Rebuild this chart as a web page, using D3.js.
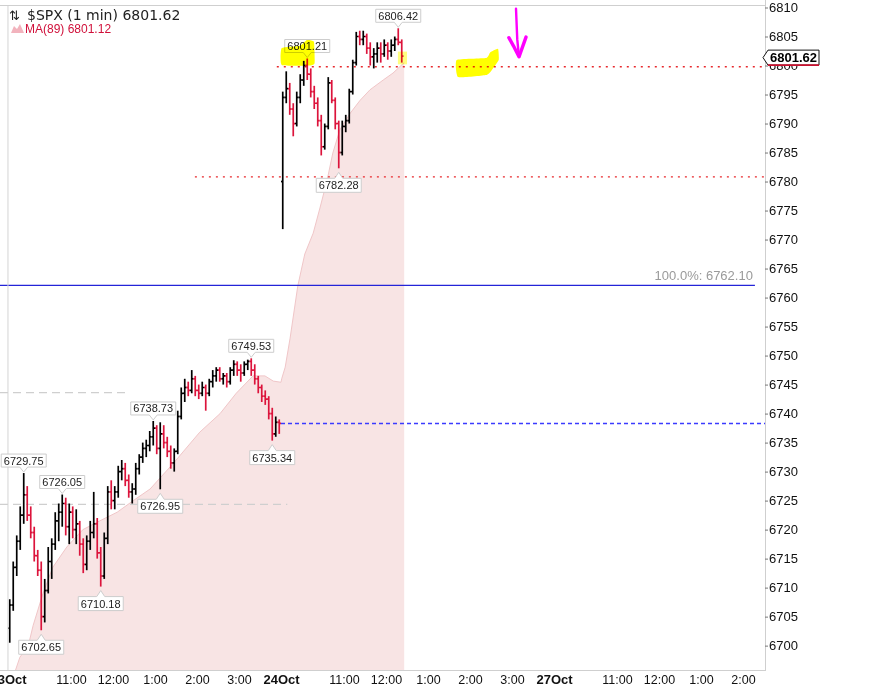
<!DOCTYPE html>
<html>
<head>
<meta charset="utf-8">
<script src="https://cdn.jsdelivr.net/npm/d3@7"></script>
<style>
	body { margin: 0; background: #fff; }
	svg { display: block; font-family: "Liberation Sans", Arial, sans-serif; }
</style>
</head>
<body>
<div id="chart"></div>
<script>
const dayNames = ['23Oct', '24Oct', '27Oct'];
const hourOffsets = [90, 150, 210, 270, 330];
const hourLabels = ['11:00', '12:00', '1:00', '2:00', '3:00'];
const priceTicks = d3.range(6700, 6811, 5);
const sessionMinutes = 390;
const barMinutes = 5;

// [open, high, low, close], 5 min each from 9:30
const oct23Bars = [
	[6703, 6708, 6700.5, 6707], [6707, 6714.5, 6706, 6713.5], [6713.5, 6719, 6712, 6718],
	[6718, 6724, 6716.5, 6722.5], [6722.5, 6729.75, 6721, 6726], [6726, 6727.5, 6721.5, 6722.5],
	[6722.5, 6724, 6718.5, 6719.5], [6719.5, 6720.5, 6714.5, 6715.5], [6715.5, 6716.5, 6712, 6713],
	[6713, 6714.5, 6702.65, 6705], [6705, 6711.5, 6704, 6709.5], [6709.5, 6717, 6709, 6714.5],
	[6714.5, 6718.5, 6711.5, 6717.5], [6717.5, 6723, 6716.5, 6721.5], [6721.5, 6724.5, 6718, 6723],
	[6723, 6726.05, 6720.5, 6724.5], [6724.5, 6725.5, 6719, 6720.5], [6720.5, 6724.5, 6717.5, 6723],
	[6723, 6724, 6718.5, 6720], [6720, 6723.5, 6717.5, 6721], [6721, 6721.5, 6715.5, 6717.5],
	[6717.5, 6718.5, 6712.5, 6714], [6714, 6719, 6713, 6718], [6718, 6721.5, 6716.5, 6719.5],
	[6719.5, 6726.5, 6718.5, 6721], [6721, 6722, 6715, 6716], [6716, 6717, 6710.18, 6712],
	[6712, 6719.5, 6711.5, 6718.5], [6718.5, 6727.5, 6717.5, 6726.5], [6726.5, 6728.5, 6723.5, 6725],
	[6725, 6727.5, 6723.5, 6726.5], [6726.5, 6731, 6725.5, 6730], [6730, 6732, 6728.5, 6730.5],
	[6730.5, 6731.5, 6727.5, 6728.5], [6728.5, 6729.5, 6725.5, 6726.5], [6726.5, 6728, 6724.5, 6727],
	[6727, 6731.5, 6726, 6730.5], [6730.5, 6733, 6729.5, 6732.5], [6732.5, 6735, 6731.5, 6734],
	[6734, 6735.5, 6732.5, 6734.5], [6734.5, 6737, 6733.5, 6736], [6736, 6738.73, 6734.5, 6737.5],
	[6737.5, 6738, 6733, 6734], [6734, 6738.5, 6726.95, 6736.5], [6736.5, 6738, 6734, 6735],
	[6735, 6736, 6732.5, 6733.5], [6733.5, 6734.5, 6730.5, 6731.5], [6731.5, 6734, 6730, 6733.5],
	[6733.5, 6740.5, 6733, 6739.5], [6739.5, 6744.5, 6739, 6743.5], [6743.5, 6746, 6742, 6744.5],
	[6744.5, 6745.5, 6743, 6744], [6744, 6747.5, 6743.5, 6746], [6746, 6746.5, 6743, 6744],
	[6744, 6745, 6742.5, 6743.5], [6743.5, 6745.5, 6743, 6744.5], [6744.5, 6745, 6740.5, 6743.5],
	[6743.5, 6746, 6743, 6745.5], [6745.5, 6747.5, 6744.5, 6746.5], [6746.5, 6748, 6745.5, 6747.5],
	[6747.5, 6748, 6745.5, 6746], [6746, 6747, 6745, 6746.5], [6746.5, 6747, 6744.5, 6745.5],
	[6745.5, 6748, 6745, 6747.5], [6747.5, 6749.2, 6746.5, 6748.5], [6748.5, 6749, 6746.5, 6747.5],
	[6747.5, 6748.5, 6745.5, 6747], [6747, 6749, 6746.5, 6748.5], [6748.5, 6749.3, 6747.5, 6749],
	[6749, 6749.53, 6746.5, 6747.5], [6747.5, 6748.5, 6745, 6746], [6746, 6746.5, 6743.5, 6744.5],
	[6744.5, 6745, 6742, 6743], [6743, 6744, 6741.5, 6742.5], [6742.5, 6743, 6739, 6740],
	[6740, 6741, 6735.34, 6736.5], [6736.5, 6739.5, 6736, 6738.5], [6738.5, 6739, 6736.5, 6738.3]
];

const oct24Bars = [
	[6780, 6795.5, 6771.8, 6794.5], [6794.5, 6799, 6793.5, 6796], [6796, 6797, 6791.5, 6792.5],
	[6792.5, 6793.5, 6787.8, 6790], [6790, 6795.5, 6789.5, 6794.5], [6794.5, 6798.5, 6793.5, 6797.5],
	[6797.5, 6800.8, 6796.5, 6800], [6800, 6801.21, 6797.5, 6798.5], [6798.5, 6799.5, 6794.5, 6795.5],
	[6795.5, 6796.5, 6792.5, 6793.5], [6793.5, 6794.5, 6789.5, 6790.5], [6790.5, 6791.5, 6784.5, 6786],
	[6786, 6790, 6785.5, 6789.5], [6789.5, 6798, 6789, 6797], [6797, 6797.5, 6793.5, 6794],
	[6794, 6794.5, 6789, 6790], [6790, 6790.5, 6782.28, 6785], [6785, 6790.5, 6784.5, 6789.5],
	[6789.5, 6791.5, 6788.5, 6790.5], [6790.5, 6796, 6790, 6795.5], [6795.5, 6801, 6795, 6800.5],
	[6800.5, 6805.8, 6800, 6805], [6805, 6806, 6803.5, 6804.5], [6804.5, 6806, 6803.5, 6805],
	[6805, 6805.5, 6802, 6803], [6803, 6804, 6800, 6801.5], [6801.5, 6803, 6799.5, 6802],
	[6802, 6804, 6800.5, 6803], [6803, 6804, 6800.5, 6802], [6802, 6804.5, 6801.5, 6803.5],
	[6803.5, 6804, 6801, 6802.5], [6802.5, 6804.5, 6801.5, 6803.5], [6803.5, 6805, 6802.5, 6804.5],
	[6804.5, 6806.42, 6803.5, 6804], [6804, 6804.5, 6800.5, 6801.62]
];

const maOct23 = [
	['09:40', 6695.5], ['09:47', 6698], ['09:59', 6700], ['10:06', 6703.5], ['10:20', 6709],
	['10:34', 6713.5], ['10:54', 6717], ['11:17', 6720], ['11:41', 6721.5], ['12:06', 6723],
	['12:29', 6725], ['12:53', 6727], ['13:26', 6731.4], ['14:04', 6736.8], ['14:33', 6740],
	['14:56', 6743.5], ['15:20', 6746.5], ['15:37', 6746.5], ['15:49', 6745.6], ['16:00', 6745.4]
];
const maOct24 = [
	['09:31', 6746], ['09:36', 6748], ['09:43', 6753], ['09:54', 6762], ['10:04', 6767.5],
	['10:16', 6771.1], ['10:26', 6775.6], ['10:36', 6780.3], ['10:44', 6784.9], ['10:54', 6788.9],
	['11:09', 6791.8], ['11:23', 6794], ['11:37', 6795.8], ['11:56', 6797.5], ['12:10', 6798.7],
	['12:26', 6800.5]
];

const extremeLabels = [
	{day: 0, bar: 4, price: 6729.75, side: 'up'},
	{day: 0, bar: 9, price: 6702.65, side: 'down'},
	{day: 0, bar: 15, price: 6726.05, side: 'up'},
	{day: 0, bar: 26, price: 6710.18, side: 'down'},
	{day: 0, bar: 41, price: 6738.73, side: 'up'},
	{day: 0, bar: 43, price: 6726.95, side: 'down'},
	{day: 0, bar: 69, price: 6749.53, side: 'up'},
	{day: 0, bar: 75, price: 6735.34, side: 'down'},
	{day: 1, bar: 7, price: 6801.21, side: 'up'},
	{day: 1, bar: 16, price: 6782.28, side: 'down'},
	{day: 1, bar: 33, price: 6806.42, side: 'up'}
];

const lastPrice = 6801.62;
const lastMA = 6801.12;
const fibLevel = 6762.10;
const fibEnd = 1067;
const dottedLevels = [{price: 6799.8, from: 384}, {price: 6780.8, from: 267}];
const closeLevel = {price: 6738.3, from: 390};
const grayLevels = [{price: 6743.6, to: 171}, {price: 6724.35, to: 399}];

// hand drawn marks, [minute index, price]
const yellowMarks = [
	[[391, 6803.0], [417, 6803.4], [427, 6804.4], [437, 6804.1], [438, 6800.4], [430, 6800.0], [391, 6800.1]],
	[[641, 6800.95], [683, 6801.3], [689, 6802.3], [700, 6802.9], [701, 6800.95], [691, 6799.2], [683, 6798.35], [643, 6798.0]]
];
const paleMark = [[557, 6802.4], [570, 6802.4], [570, 6800.2], [557, 6800.2]];
const arrowShaft = [[725.7, 6809.8], [727.5, 6804.5], [730, 6801.5]];
const arrowHead = [[715.5, 6804.8], [722, 6803.4], [730, 6801.5], [740, 6804.9]];

const width = 882, height = 688;
const plot = {left: 0, right: 765, top: 6, bottom: 670};

const x = d3.scaleLinear()
	.domain([-11.4, 1081.4])
	.range([plot.left, plot.right]);
const y = d3.scaleLinear()
	.domain([6695.8, 6810.26])
	.range([plot.bottom, plot.top]);

const toIndex = (day, hhmm) => {
	const [h, m] = hhmm.split(':').map(Number);
	return day * sessionMinutes + h * 60 + m - 570;
};

const svg = d3.select('#chart').append('svg')
	.attr('width', width)
	.attr('height', height);

svg.append('rect').attr('width', width).attr('height', height).attr('fill', '#fff');

svg.append('clipPath').attr('id', 'plotClip')
	.append('rect')
	.attr('x', plot.left).attr('y', plot.top)
	.attr('width', plot.right - plot.left)
	.attr('height', plot.bottom - plot.top);

const inner = svg.append('g').attr('clip-path', 'url(#plotClip)');

// MA(89) shaded
const maPoints = maOct23.map(d => [toIndex(0, d[0]), d[1]])
	.concat(maOct24.map(d => [toIndex(1, d[0]), d[1]]));
inner.append('path')
	.datum(maPoints)
	.attr('fill', '#f8e4e4')
	.attr('d', d3.area().x(d => x(d[0])).y0(plot.bottom).y1(d => y(d[1])));
inner.append('path')
	.datum(maPoints)
	.attr('fill', 'none')
	.attr('stroke', '#f0c6c8')
	.attr('stroke-width', 1)
	.attr('d', d3.line().x(d => x(d[0])).y(d => y(d[1])));

// frame
svg.append('line').attr('x1', x(0)).attr('x2', x(0)).attr('y1', 5).attr('y2', plot.bottom)
	.attr('stroke', '#d4d4d4');
svg.append('line').attr('x1', 0).attr('x2', plot.right).attr('y1', 5.5).attr('y2', 5.5)
	.attr('stroke', '#cfcfcf');
svg.append('line').attr('x1', 0).attr('x2', plot.right).attr('y1', plot.bottom + 0.5).attr('y2', plot.bottom + 0.5)
	.attr('stroke', '#cfcfcf');

// level lines
grayLevels.forEach(l => {
	inner.append('line')
		.attr('x1', plot.left).attr('x2', x(l.to))
		.attr('y1', y(l.price)).attr('y2', y(l.price))
		.attr('stroke', '#cfcfcf').attr('stroke-width', 1.2)
		.attr('stroke-dasharray', '8,5');
});
inner.append('line')
	.attr('x1', plot.left).attr('x2', x(fibEnd))
	.attr('y1', y(fibLevel)).attr('y2', y(fibLevel))
	.attr('stroke', '#2424d8').attr('stroke-width', 1.3);
svg.append('text')
	.attr('x', x(fibEnd) - 2).attr('y', y(fibLevel) - 5)
	.attr('text-anchor', 'end')
	.attr('font-size', 13).attr('fill', '#9a9a9a')
	.text('100.0%: ' + fibLevel.toFixed(2));
inner.append('line')
	.attr('x1', x(closeLevel.from)).attr('x2', plot.right)
	.attr('y1', y(closeLevel.price)).attr('y2', y(closeLevel.price))
	.attr('stroke', '#3b3bff').attr('stroke-width', 1.5)
	.attr('stroke-dasharray', '4,3');
dottedLevels.forEach(l => {
	inner.append('line')
		.attr('x1', x(l.from)).attr('x2', plot.right)
		.attr('y1', y(l.price)).attr('y2', y(l.price))
		.attr('stroke', '#e8282c').attr('stroke-width', 1.4)
		.attr('stroke-dasharray', '2,5');
});

// price bars
const bars = oct23Bars.map((b, i) => ({t: i * barMinutes, o: b[0], h: b[1], l: b[2], c: b[3]}))
	.concat(oct24Bars.map((b, i) => ({t: sessionMinutes + i * barMinutes, o: b[0], h: b[1], l: b[2], c: b[3]})));

const barG = inner.selectAll('g.bar')
	.data(bars)
	.enter().append('g')
	.attr('class', 'bar')
	.attr('stroke', d => d.c >= d.o ? '#000' : '#dc143c')
	.attr('stroke-width', 1.7);
barG.append('line')
	.attr('x1', d => x(d.t + 2.5)).attr('x2', d => x(d.t + 2.5))
	.attr('y1', d => y(d.h)).attr('y2', d => y(d.l));
barG.append('line')
	.attr('x1', d => x(d.t)).attr('x2', d => x(d.t + 2.5))
	.attr('y1', d => y(d.o)).attr('y2', d => y(d.o));
barG.append('line')
	.attr('x1', d => x(d.t + 2.5)).attr('x2', d => x(d.t + 5))
	.attr('y1', d => y(d.c)).attr('y2', d => y(d.c));

// extreme labels
extremeLabels.forEach(d => {
	const cx = x(d.day * sessionMinutes + d.bar * barMinutes + 2.5);
	const py = y(d.price);
	const w = 45;
	let tip, edge, far;
	if (d.side === 'up') {
		tip = py - 1; edge = py - 6; far = edge - 13;
	} else {
		tip = py + 4; edge = py + 10; far = edge + 14;
	}
	svg.append('path')
		.attr('d', `M${cx - w / 2},${far}H${cx + w / 2}V${edge}H${cx + 4}L${cx},${tip}L${cx - 4},${edge}H${cx - w / 2}Z`)
		.attr('fill', '#fff')
		.attr('stroke', '#cdcdcd');
	svg.append('text')
		.attr('x', cx).attr('y', (edge + far) / 2 + 4)
		.attr('text-anchor', 'middle')
		.attr('font-size', 11).attr('fill', '#222')
		.text(d.price.toFixed(2));
});

// highlighter marks on top
const marks = svg.append('g');
yellowMarks.forEach(m => {
	marks.append('path')
		.datum(m)
		.attr('d', d3.line().x(d => x(d[0])).y(d => y(d[1])).curve(d3.curveCardinalClosed.tension(0.6)))
		.attr('fill', '#ffff00')
		.style('mix-blend-mode', 'multiply');
});
marks.append('path')
	.datum(paleMark)
	.attr('d', d3.line().x(d => x(d[0])).y(d => y(d[1])).curve(d3.curveLinearClosed))
	.attr('fill', '#ffff80')
	.style('mix-blend-mode', 'multiply');
const arrowLine = d3.line().x(d => x(d[0])).y(d => y(d[1]));
marks.append('path').datum(arrowShaft).attr('d', arrowLine)
	.attr('fill', 'none').attr('stroke', '#ff00ff').attr('stroke-width', 2.4)
	.attr('stroke-linecap', 'round');
marks.append('path').datum(arrowHead).attr('d', arrowLine)
	.attr('fill', 'none').attr('stroke', '#ff00ff').attr('stroke-width', 3.4)
	.attr('stroke-linecap', 'round').attr('stroke-linejoin', 'round');

// x axis
let xTicks = [];
let xTickText = {};
dayNames.forEach((name, day) => {
	xTicks.push(day * sessionMinutes);
	xTickText[day * sessionMinutes] = name;
	hourOffsets.forEach((off, i) => {
		xTicks.push(day * sessionMinutes + off);
		xTickText[day * sessionMinutes + off] = hourLabels[i];
	});
});
xTicks = xTicks.filter(t => x(t) < plot.right - 10);

const xAxis = svg.append('g')
	.attr('transform', `translate(0,${plot.bottom})`)
	.call(d3.axisBottom(x).tickValues(xTicks).tickSize(0).tickPadding(5).tickFormat(t => xTickText[t]));
xAxis.select('.domain').remove();
xAxis.selectAll('text')
	.attr('fill', '#111')
	.attr('font-family', '"Liberation Sans", Arial, sans-serif')
	.attr('font-size', t => t % sessionMinutes === 0 ? 13 : 12.5)
	.attr('font-weight', t => t % sessionMinutes === 0 ? 'bold' : 'normal');

// y axis on the right
svg.append('line')
	.attr('x1', plot.right + 0.5).attr('x2', plot.right + 0.5)
	.attr('y1', 0).attr('y2', plot.bottom + 1)
	.attr('stroke', '#cfcfcf');
const yAxis = svg.append('g')
	.attr('transform', `translate(${plot.right},0)`)
	.call(d3.axisRight(y).tickValues(priceTicks).tickSize(3).tickSizeOuter(0).tickPadding(1).tickFormat(d3.format('d')));
yAxis.select('.domain').remove();
yAxis.selectAll('line').attr('stroke', '#777');
yAxis.selectAll('text')
	.attr('fill', '#111')
	.attr('font-family', '"Liberation Sans", Arial, sans-serif')
	.attr('font-size', 13);

// last price tag
const cy = y(lastPrice) + 1.5;
svg.append('path')
	.attr('d', `M${plot.right - 2},${cy}L${plot.right + 3},${cy - 7.5}H${plot.right + 54}V${cy + 7.5}H${plot.right + 3}Z`)
	.attr('fill', '#fff')
	.attr('stroke', '#111');
svg.append('line')
	.attr('x1', plot.right + 3).attr('x2', plot.right + 54)
	.attr('y1', cy + 7.5).attr('y2', cy + 7.5)
	.attr('stroke', '#c8102e').attr('stroke-width', 1.6);
svg.append('text')
	.attr('x', plot.right + 5).attr('y', cy + 4.5)
	.attr('font-size', 13).attr('font-weight', 'bold').attr('fill', '#000')
	.text(lastPrice.toFixed(2));

// legend
svg.append('text')
	.attr('x', 9).attr('y', 20)
	.attr('font-family', '"DejaVu Sans", sans-serif')
	.attr('font-size', 13).attr('fill', '#222')
	.text('⇅');
svg.append('text')
	.attr('x', 27).attr('y', 20)
	.attr('font-family', '"DejaVu Sans", sans-serif')
	.attr('font-size', 14).attr('fill', '#222')
	.text('$SPX (1 min) ' + lastPrice.toFixed(2));
svg.append('path')
	.attr('d', 'M11,33L14,26L17,29L20,24L24,33Z')
	.attr('fill', '#f2b3bd');
svg.append('text')
	.attr('x', 25).attr('y', 33)
	.attr('font-size', 12).attr('fill', '#d0103a')
	.text('MA(89) ' + lastMA.toFixed(2));
</script>
</body>
</html>
